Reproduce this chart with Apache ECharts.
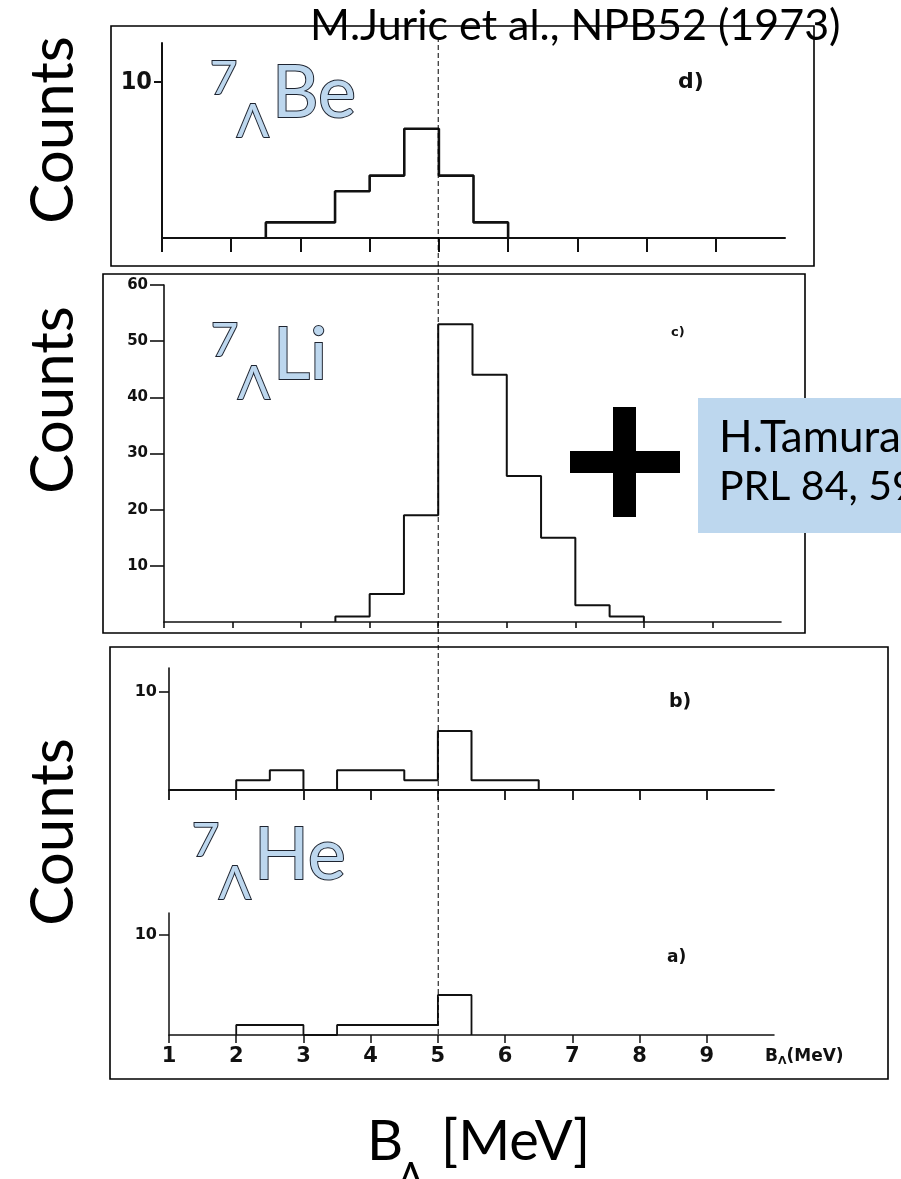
<!DOCTYPE html>
<html>
<head>
<meta charset="utf-8">
<script src="https://cdn.jsdelivr.net/npm/echarts@6/dist/echarts.min.js"></script>
<style>
  html, body { margin: 0; padding: 0; background: #ffffff; }
  #chart { width: 901px; height: 1179px; }
</style>
</head>
<body>
<div id="chart"></div>
<script>
// Shared energy scale B_Lambda (MeV)
const energyTicks = [1, 2, 3, 4, 5, 6, 7, 8, 9];

// d) 7ΛBe  — bin edges (MeV) and counts per bin
const edgesBe = [2.5, 3.0, 3.5, 4.0, 4.5, 5.0, 5.5, 6.0];
const countsBe = [1, 1, 3, 4, 7, 4, 1];

// c) 7ΛLi
const edgesLi = [3.5, 4.0, 4.5, 5.0, 5.5, 6.0, 6.5, 7.0, 7.5, 8.0];
const countsLi = [1, 5, 19, 53, 44, 26, 15, 3, 1];

// b) 7ΛHe (sample b)
const edgesHeB = [2.0, 2.5, 3.0, 3.5, 4.0, 4.5, 5.0, 5.5, 6.0, 6.5];
const countsHeB = [1, 2, 0, 2, 2, 1, 6, 1, 1];

// a) 7ΛHe (sample a)
const edgesHeA = [2.0, 2.5, 3.0, 3.5, 4.0, 4.5, 5.0, 5.5];
const countsHeA = [1, 1, 0, 1, 1, 1, 4];

// Count-axis tick labels per panel
const ticksBe = [10];
const ticksLi = [10, 20, 30, 40, 50, 60];
const ticksHeB = [10];
const ticksHeA = [10];

// Outline of a histogram as a stepped polyline
function stepPoints(edges, counts) {
  const pts = [[edges[0], 0]];
  counts.forEach((c, i) => pts.push([edges[i], c]));
  pts.push([edges[edges.length - 1], 0]);
  return pts;
}

const INK = '#111111';
const SCAN_FONT = 'DejaVu Sans';

function xAxisFor(gridIndex, tickLen, lineW, withLabels) {
  return {
    type: 'value', gridIndex: gridIndex, min: 1, max: 10,
    axisLine: { show: true, onZero: false, lineStyle: { color: INK, width: lineW } },
    axisTick: { show: true, inside: false, length: tickLen, customValues: energyTicks,
                lineStyle: { color: INK, width: lineW } },
    axisLabel: withLabels ? {
      show: true, customValues: energyTicks, margin: 11,
      fontFamily: SCAN_FONT, fontWeight: 'bold', fontSize: 21, color: INK
    } : { show: false },
    splitLine: { show: false }
  };
}

function yAxisFor(gridIndex, max, ticks, tickLen, lineW, labelFont) {
  return {
    type: 'value', gridIndex: gridIndex, min: 0, max: max,
    axisLine: { show: true, onZero: false, lineStyle: { color: INK, width: lineW } },
    axisTick: { show: true, inside: false, length: tickLen, customValues: ticks,
                lineStyle: { color: INK, width: lineW } },
    axisLabel: Object.assign({ show: true, customValues: ticks, color: INK, margin: tickLen + 2 }, labelFont),
    splitLine: { show: false }
  };
}

function histSeries(idx, edges, counts, w) {
  return {
    type: 'line', xAxisIndex: idx, yAxisIndex: idx,
    data: stepPoints(edges, counts), step: 'end',
    showSymbol: false, symbol: 'none', silent: true,
    lineStyle: { color: INK, width: w }
  };
}

const chart = echarts.init(document.getElementById('chart'), null, { renderer: 'canvas' });

const option = {
  backgroundColor: '#ffffff',
  animation: false,
  grid: [
    { left: 162, top: 43, width: 623, height: 195 },   // d
    { left: 164, top: 285, width: 617, height: 337 },  // c
    { left: 169, top: 668, width: 605, height: 122 },  // b
    { left: 169, top: 913, width: 605, height: 122 }   // a
  ],
  xAxis: [
    xAxisFor(0, 14, 2, false),
    xAxisFor(1, 6, 1.6, false),
    xAxisFor(2, 10, 1.8, false),
    xAxisFor(3, 8, 1.5, true)
  ],
  yAxis: [
    yAxisFor(0, 12.5, ticksBe, 8, 2,
      { fontFamily: '"DejaVu Sans Condensed", "DejaVu Sans"', fontWeight: 'bold', fontSize: 25 }),
    yAxisFor(1, 60, ticksLi, 14, 1.6,
      { fontFamily: SCAN_FONT, fontWeight: 'bold', fontSize: 15 }),
    yAxisFor(2, 12.4, ticksHeB, 10, 1.6,
      { fontFamily: SCAN_FONT, fontWeight: 'bold', fontSize: 16 }),
    yAxisFor(3, 12.2, ticksHeA, 10, 1.5,
      { fontFamily: SCAN_FONT, fontWeight: 'bold', fontSize: 16 })
  ],
  series: [
    histSeries(0, edgesBe, countsBe, 2.6),
    histSeries(1, edgesLi, countsLi, 2),
    histSeries(2, edgesHeB, countsHeB, 2),
    histSeries(3, edgesHeA, countsHeA, 1.8)
  ]
};
chart.setOption(option);

// ---- annotations ----
const LABEL_FONT = 'Lato, "Noto Sans", sans-serif';
const NUCLEUS_FILL = '#bdd7ee';
const NUCLEUS_EDGE = '#1e2430';

function text(x, y, str, size, extra) {
  return {
    type: 'text', x: x, y: y, z: 20,
    style: Object.assign({
      text: str, fontFamily: LABEL_FONT, fontSize: size, fill: '#000',
      align: 'left', verticalAlign: 'middle', textAlign: 'left', textVerticalAlign: 'middle'
    }, extra || {})
  };
}

function nucleus(x, yCap, symbol) {
  const outline = { fill: NUCLEUS_FILL, stroke: NUCLEUS_EDGE, lineWidth: 2 };
  return [
    text(x, yCap - 15, '7', 47, outline),
    text(x + 27, yCap + 28, 'Λ', 47, outline),
    text(x + 62, yCap, symbol, 72, outline)
  ];
}

function box(x, y, w, h) {
  return { type: 'rect', z: 5, shape: { x: x, y: y, width: w, height: h },
           style: { fill: 'transparent', stroke: '#000', lineWidth: 1.6 } };
}

function panelTag(x, y, str, size) {
  return text(x, y, str, size, { fontFamily: SCAN_FONT, fontWeight: 'bold', fill: INK });
}

const x5 = chart.convertToPixel({ xAxisIndex: 1 }, 5);
const yBaseA = chart.convertToPixel({ yAxisIndex: 3 }, 0);

const elements = [
  // frames
  box(111, 26, 703, 240),
  box(103, 274, 702, 359),
  box(110, 647, 778, 432),

  // reference dashed line at B_Lambda = 5 MeV
  { type: 'line', z: 15, shape: { x1: x5, y1: 37, x2: x5, y2: yBaseA },
    style: { stroke: '#000', lineWidth: 1, lineDash: [5, 3] } },

  // citation above the top panel
  text(310, 26, 'M.Juric et al., NPB52 (1973)', 43),

  // vertical axis titles
  text(54, 130, 'Counts', 60, { align: 'center', textAlign: 'center' }),
  text(54, 400, 'Counts', 60, { align: 'center', textAlign: 'center' }),
  text(54, 832, 'Counts', 60, { align: 'center', textAlign: 'center' }),

  // panel tags
  panelTag(678, 82, 'd)', 22),
  panelTag(671, 333, 'c)', 13),
  panelTag(669, 702, 'b)', 19),
  panelTag(667, 958, 'a)', 17),

  // energy label on the lowest axis
  { type: 'text', x: 765, y: 1057, z: 20,
    style: {
      text: '{b|B}{s|Λ}{b|(MeV)}',
      align: 'left', verticalAlign: 'middle', textAlign: 'left', textVerticalAlign: 'middle',
      rich: {
        b: { fontFamily: SCAN_FONT, fontWeight: 'bold', fontSize: 17, fill: INK, color: INK },
        s: { fontFamily: SCAN_FONT, fontWeight: 'bold', fontSize: 11, fill: INK, color: INK,
             padding: [8, 0, 0, 0] }
      }
    } },

  // plus sign linking to the gamma-ray result
  { type: 'rect', z: 20, shape: { x: 613, y: 407, width: 23, height: 110 }, style: { fill: '#000' } },
  { type: 'rect', z: 20, shape: { x: 570, y: 451, width: 110, height: 22 }, style: { fill: '#000' } },

  // citation box
  { type: 'rect', z: 18, shape: { x: 698, y: 398, width: 260, height: 135 }, style: { fill: '#bdd7ee' } },
  text(719, 438, 'H.Tamura et al.,', 44),
  text(719, 487, 'PRL 84, 5963 (2000)', 41),

  // shared horizontal axis title
  text(367, 1142, 'B', 56),
  text(398, 1178, 'Λ', 38),
  text(441, 1142, '[MeV]', 56)
]
  .concat(nucleus(210, 94, 'Be'))
  .concat(nucleus(211, 356, 'Li'))
  .concat(nucleus(192, 856, 'He'));

// rotate the three "Counts" titles to read bottom-to-top
elements.forEach(el => {
  if (el.style && el.style.text === 'Counts') el.rotation = Math.PI / 2;
});

chart.setOption({ graphic: { elements: elements } });
</script>
</body>
</html>
